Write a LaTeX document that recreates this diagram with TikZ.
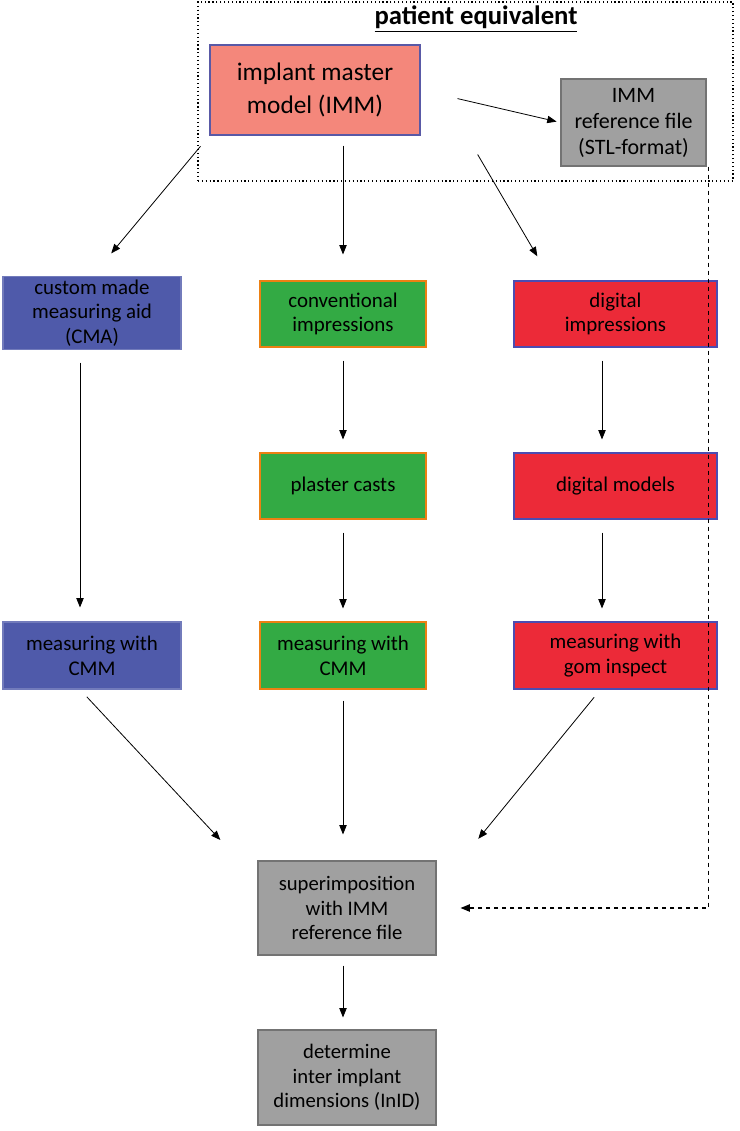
\documentclass[tikz,border=0pt]{standalone}
\usepackage{fontspec}
\setmainfont{Carlito}
\usepackage{tikz}
\usetikzlibrary{arrows.meta}
\usetikzlibrary{positioning}

\definecolor{salmonfill}{HTML}{F4877B}
\definecolor{bluefill}{HTML}{4F5AAA}
\definecolor{greenfill}{HTML}{33AA44}
\definecolor{redfill}{HTML}{EC2A38}
\definecolor{grayfill}{HTML}{A0A0A0}

\begin{document}
\begin{tikzpicture} [x=0.75pt,y=-0.75pt,
		box/.style={rectangle,draw,line width=0.8pt,align=center,inner sep=2pt,
			font=\fontsize{15.7}{18.5}\selectfont},
		bluebox/.style={box,fill=bluefill,draw=bluefill!80!white,minimum width=178*0.75pt,minimum height=67*0.75pt},
		greenbox/.style={box,fill=greenfill,draw=orange!70!brown,minimum width=166*0.75pt,minimum height=66*0.75pt},
		redbox/.style={box,fill=redfill,draw=blue!40!gray,minimum width=203*0.75pt,minimum height=66*0.75pt},
		graybox/.style={box,fill=grayfill,draw=gray!110,minimum width=178*0.75pt,minimum height=94*0.75pt,
			font=\fontsize{15.5}{18.5}\selectfont},
		arr/.style={-{Triangle[length=7pt,width=5.5pt]},line width=0.6pt}]
		
		\useasboundingbox (0,0) rectangle (739,1131);
		
		% patient equivalent frame
		\node[draw,dotted,line width=0.9pt,minimum width=535*0.75pt,minimum height=179*0.75pt] (pe) at (465.5,91.5) {};
		\node (title) at (476,19) {\fontsize{20}{22}\selectfont\bfseries\underline{patient equivalent}};
		\node[box,fill=salmonfill,draw=blue!30!gray,minimum width=210*0.75pt,minimum height=90*0.75pt,
			font=\fontsize{19}{25}\selectfont] (imm) at (315,90) {implant master\\model (IMM)};
		\node[graybox,minimum width=145*0.75pt,minimum height=87*0.75pt,
			font=\fontsize{16.5}{19.5}\selectfont] (ref) at (633.5,122.5) {IMM\\reference file\\(STL-format)};
		
		% first row
		\node[bluebox,minimum height=68*0.75pt] (cma) at (92,313) {custom made\\measuring aid\\(CMA)};
		\node[greenbox] (conv) at (343,314) {conventional\\impressions};
		\node[redbox] (dimp) at (615.5,314) {digital\\impressions};
		
		% second row
		\node[greenbox] (cast) at (343,486) {plaster casts};
		\node[redbox] (dmod) at (615.5,486) {digital models};
		
		% measuring
		\node[bluebox] (cmmb) at (92,655.5) {measuring with\\CMM};
		\node[greenbox,minimum height=67*0.75pt] (cmmg) at (343,655.5) {measuring with\\CMM};
		\node[redbox,minimum height=67*0.75pt] (gom) at (615.5,655.5) {measuring with\\gom inspect};
		
		% evaluation
		\node[graybox] (sup) at (347,908) {superimposition\\with IMM\\reference file};
		\node[graybox,minimum height=95*0.75pt] (inid) at (347,1077.5) {determine\\inter implant\\dimensions (InID)};
		
		% arrows
		\draw[arr,shorten <=38*0.75pt,shorten >=4*0.75pt] (imm.east) -- (ref.west);
		\draw[arr,shorten <=14*0.75pt,shorten >=30*0.75pt] (imm.south west) -- (cma.north);
		\draw[arr,shorten <=10*0.75pt,shorten >=26*0.75pt] (imm.south -| conv.north) -- (conv.north);
		\draw[arr,shorten <=22*0.75pt,shorten >=28*0.75pt] ([xshift=46*0.75pt]imm.south east) -- ([xshift=38*0.75pt]dimp.north west);
		\draw[arr,shorten <=13*0.75pt,shorten >=13*0.75pt] (conv) -- (cast);
		\draw[arr,shorten <=13*0.75pt,shorten >=13*0.75pt] (dimp.south -| 602,0) -- (dmod.north -| 602,0);
		\draw[arr,shorten <=13*0.75pt,shorten >=13*0.75pt] (cast) -- (cmmg);
		\draw[arr,shorten <=13*0.75pt,shorten >=13*0.75pt] (dmod.south -| 602,0) -- (gom.north -| 602,0);
		\draw[arr,shorten <=13*0.75pt,shorten >=14*0.75pt] (cma.south -| 80,0) -- (cmmb.north -| 80,0);
		\draw[arr,shorten <=10*0.75pt,shorten >=28*0.75pt] ([xshift=-12*0.75pt]cmmb.south) -- ([xshift=-18*0.75pt]sup.north west);
		\draw[arr,shorten <=11*0.75pt,shorten >=26*0.75pt] (cmmg) -- (cmmg |- sup.north);
		\draw[arr,shorten <=10*0.75pt,shorten >=28*0.75pt] ([xshift=-15*0.75pt]gom.south) -- ([xshift=24*0.75pt]sup.north east);
		\draw[arr,shorten <=10*0.75pt,shorten >=12*0.75pt] (sup.south -| cmmg) -- (inid.north -| cmmg);
		\draw[arr,dashed,line width=0.9pt,shorten >=24*0.75pt] ([xshift=2*0.75pt]ref.south east) |- (sup.east);
		
\end{tikzpicture}
\end{document}
